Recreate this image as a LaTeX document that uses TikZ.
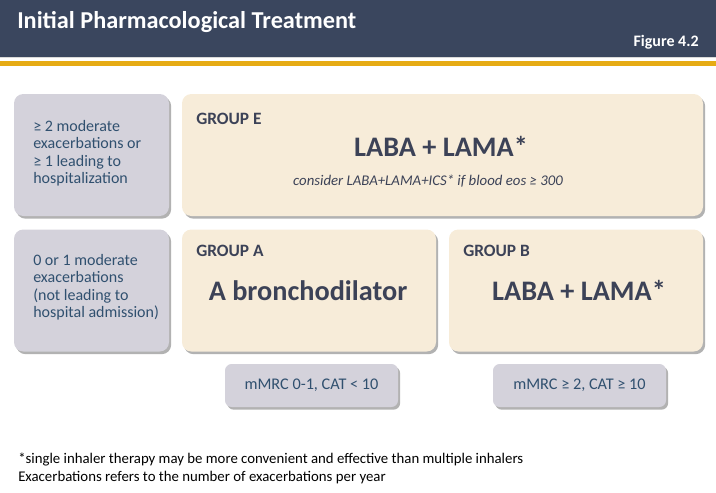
\documentclass[tikz,border=0pt]{standalone}
\usepackage{fontspec}
\setmainfont{Carlito}
\usetikzlibrary{shadows}

\definecolor{headnavy}{HTML}{3A465E}
\definecolor{goldline}{HTML}{E6AB14}
\definecolor{critgrey}{HTML}{D4D2DB}
\definecolor{groupcream}{HTML}{F7ECD9}
\definecolor{grouptext}{HTML}{3C4257}
\definecolor{crittext}{HTML}{30506F}

\tikzset{
    boxshadow/.style={drop shadow={shadow xshift=1.6pt, shadow yshift=-2pt, fill=black!55, opacity=0.55}},
    critbox/.style={fill=critgrey, rounded corners=7pt, boxshadow, inner sep=0pt, minimum width=116.25pt, minimum height=91.5pt},
    groupbox/.style={fill=groupcream, rounded corners=7pt, boxshadow, inner sep=0pt, minimum height=91.5pt},
    symbox/.style={fill=critgrey, rounded corners=5pt, boxshadow, inner sep=0pt, minimum width=129.75pt, minimum height=32.25pt, text=crittext, font=\fontsize{12.2}{14}\selectfont},
    grouplabel/.style={anchor=base west, inner sep=0pt, text=grouptext, font=\fontsize{13}{15}\selectfont\bfseries},
    drug/.style={anchor=base, inner sep=0pt, text=grouptext, font=\fontsize{21.2}{25}\selectfont\bfseries},
    crittxt/.style={anchor=north west, inner sep=0pt, align=left, text=crittext, font=\fontsize{12}{13.1}\selectfont},
}

\begin{document}
\begin{tikzpicture}[x=0.75pt, y=-0.75pt]
    \useasboundingbox (0, 0) rectangle (716, 492);
    % header
    \fill[headnavy] (0, 0) rectangle (716, 57);
    \fill[black!15] (0, 57) rectangle (716, 58);
    \fill[goldline] (0, 61.5) rectangle (716, 66.5);
    \node[anchor=base west, inner sep=0pt, text=white, font=\fontsize{18.2}{21}\selectfont\bfseries] (title) at (17, 29) {Initial Pharmacological Treatment};
    \node[anchor=base east, inner sep=0pt, text=white, font=\fontsize{12}{14}\selectfont\bfseries] (fignum) at (699, 47) {Figure 4.2};

    % exacerbation rows
    \node[critbox] (critE) at (91.5, 155) {};
    \node[critbox] (critA) at (91.5, 290.5) {};
    \node[crittxt] (critEtxt) at (33, 120) {≥ 2 moderate\\exacerbations or\\≥ 1 leading to\\hospitalization};
    \node[crittxt] (critAtxt) at (33, 254) {0 or 1 moderate\\exacerbations\\(not leading to\\hospital admission)};

    % groups
    \node[groupbox, minimum width=390.75pt] (grpE) at (442.5, 155) {};
    \node[groupbox, minimum width=190.5pt] (grpA) at (309, 290.5) {};
    \node[groupbox, minimum width=190.5pt] (grpB) at (576, 290.5) {};
    \node[grouplabel] (labE) at (196, 124) {GROUP E};
    \node[grouplabel] (labA) at (196, 256) {GROUP A};
    \node[grouplabel] (labB) at (463, 256) {GROUP B};
    \node[drug] (drugE) at (441, 156) {LABA + LAMA*};
    \node[anchor=base, inner sep=0pt, text=grouptext, font=\fontsize{11.1}{14}\selectfont\itshape] (consE) at (428, 185) {consider LABA+LAMA+ICS* if blood eos ≥ 300};
    \node[drug] (drugA) at (308, 300) {A bronchodilator};
    \node[drug] (drugB) at (579, 300) {LABA + LAMA*};

    % symptoms
    \node[symbox] (symA) at (311.5, 385.5) {mMRC 0-1, CAT < 10};
    \node[symbox] (symB) at (579.5, 385.5) {mMRC ≥ 2, CAT ≥ 10};

    % notes
    \node[anchor=north west, inner sep=0pt, align=left, font=\fontsize{11.1}{13.5}\selectfont] (notes) at (18, 452.5) {*single inhaler therapy may be more convenient and effective than multiple inhalers\\Exacerbations refers to the number of exacerbations per year};
\end{tikzpicture}
\end{document}
